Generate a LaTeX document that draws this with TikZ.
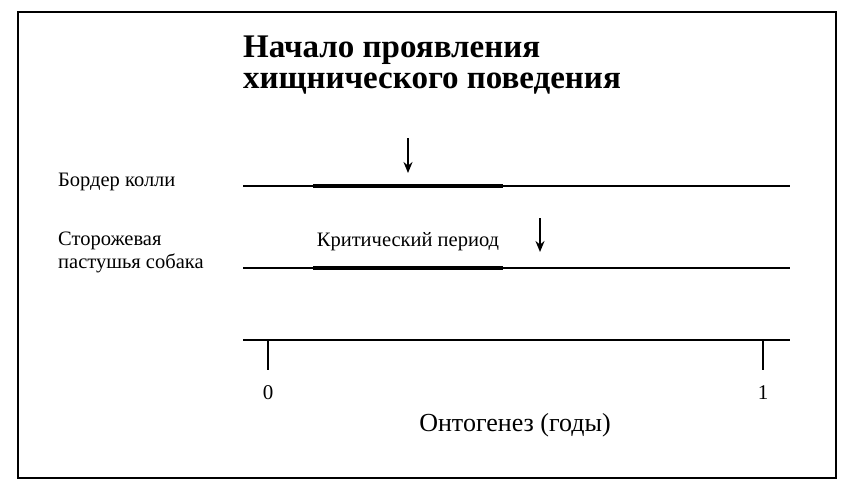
\documentclass[tikz,border=0pt]{standalone}
\usepackage{fontspec}
\usetikzlibrary{arrows.meta}
\setmainfont{Liberation Serif}
\begin{document}
\begin{tikzpicture}[x=1pt,y=-1pt,
  lbl/.style={anchor=west,inner sep=0pt,font=\fontsize{20.5}{23}\selectfont},
  thin/.style={line width=1.3pt},
  thick2/.style={line width=4pt},
  arr/.style={line width=1.8pt,-{Stealth[length=11pt,width=9pt]}}]
\useasboundingbox (0,0) rectangle (850,492);
\draw[line width=1.3pt] (18,12) rectangle (836,478);
\node[anchor=west,inner sep=0pt,align=left,font=\fontsize{33}{31}\selectfont\bfseries] (title) at (243,65) {Начало проявления\\хищнического поведения};
\node[lbl] (bc) at (58,182) {Бордер колли};
\node[lbl,align=left] (gd) at (58,252) {Сторожевая\\пастушья собака};
\coordinate (a1) at (243,186); \coordinate (a2) at (790,186);
\coordinate (b1) at (243,268); \coordinate (b2) at (790,268);
\draw[thin] (a1) -- (a2);
\draw[thin] (b1) -- (b2);
\coordinate (t1) at (313,186); \coordinate (t2) at (503,186);
\coordinate (u1) at (313,268); \coordinate (u2) at (503,268);
\draw[thick2] (t1) -- (t2);
\draw[thick2] (u1) -- (u2);
\coordinate (p1) at (408,138); \coordinate (p2) at (408,173);
\draw[arr] (p1) -- (p2);
\coordinate (q1) at (540,218); \coordinate (q2) at (540,252);
\draw[arr] (q1) -- (q2);
\node[inner sep=0pt,font=\fontsize{20.5}{23}\selectfont] (cp) at (408,242) {Критический период};
\coordinate (x1) at (243,340); \coordinate (x2) at (790,340);
\draw[thin] (x1) -- (x2);
\coordinate (k0) at (268,340); \coordinate (k0b) at (268,370);
\coordinate (k1) at (763,340); \coordinate (k1b) at (763,370);
\draw[thin] (k0) -- (k0b);
\draw[thin] (k1) -- (k1b);
\node[inner sep=0pt,font=\fontsize{21}{22}\selectfont] (z) at (268,393) {0};
\node[inner sep=0pt,font=\fontsize{21}{22}\selectfont] (o) at (763,393) {1};
\node[inner sep=0pt,font=\fontsize{26}{28}\selectfont] (ont) at (515,425) {Онтогенез (годы)};
\end{tikzpicture}
\end{document}
